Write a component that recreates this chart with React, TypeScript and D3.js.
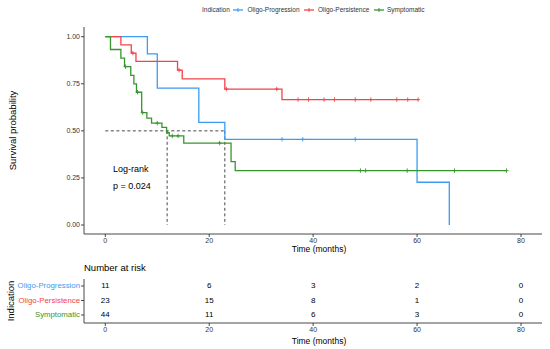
import * as d3 from "d3";

const groups = ["Oligo-Progression", "Oligo-Persistence", "Symptomatic"];
const colors = ["#3a9cf2", "#f2444a", "#35962e"];

// step curves (time in months, survival after the step)
const progTimes = [0, 8.1, 10.0, 18.0, 23.0, 60.0, 66.2];
const progSurv = [1, 0.909, 0.727, 0.545, 0.455, 0.227, 0];
const progEnd = 66.2;
const progCensor = [34.0, 38.0, 48.1];

const persTimes = [0, 3.0, 5.0, 5.9, 13.9, 14.8, 23.0, 34.0];
const persSurv = [1, 0.957, 0.913, 0.869, 0.822, 0.776, 0.722, 0.666];
const persEnd = 60.2;
const persCensor = [5.3, 14.2, 23.3, 33.0, 37.1, 39.1, 42.1, 44.1, 48.1, 51.1, 56.1, 58.2, 60.2];

const sympTimes = [0, 1.0, 3.0, 3.7, 4.9, 5.5, 6.0, 7.0, 8.0, 8.9, 10.9, 11.8, 12.3, 15.1, 24.2, 25.0];
const sympSurv = [1, 0.932, 0.886, 0.841, 0.795, 0.75, 0.705, 0.597, 0.568, 0.541, 0.518, 0.49, 0.473, 0.435, 0.337, 0.289];
const sympEnd = 77.2;
const sympCensor = [3.9, 6.2, 7.2, 10.0, 12.9, 14.0, 22.0, 49.1, 50.1, 58.1, 67.2, 77.2];

const medians = [11.9, 23.0];

const riskTimes = [0, 20, 40, 60, 80];
const riskProg = [11, 6, 3, 2, 0];
const riskPers = [23, 15, 8, 1, 0];
const riskSymp = [44, 11, 6, 3, 0];

const yTicks = [0, 0.25, 0.5, 0.75, 1];
const xTicks = [0, 20, 40, 60, 80];

const curves = [
  { times: progTimes, surv: progSurv, end: progEnd, censor: progCensor },
  { times: persTimes, surv: persSurv, end: persEnd, censor: persCensor },
  { times: sympTimes, surv: sympSurv, end: sympEnd, censor: sympCensor },
];
const risks = [riskProg, riskPers, riskSymp];

const font = "'Liberation Sans', Arial, sans-serif";
const ink = "#333";

export default function App() {
  const x = d3.scaleLinear().domain([0, 80]).range([105.3, 521]);
  const y = d3.scaleLinear().domain([0, 1]).range([225, 36.7]);
  const axisLeft = 84;
  const axisBottom = 234;
  const axisRight = 542;
  const titleX = 319;

  const line = d3
    .line<[number, number]>()
    .x((d) => x(d[0]))
    .y((d) => y(d[1]))
    .curve(d3.curveStepAfter);

  const survAt = (c: typeof curves[0], t: number) => {
    let s = c.surv[0];
    c.times.forEach((tt, i) => {
      if (tt <= t) s = c.surv[i];
    });
    return s;
  };

  const rowY = d3.scalePoint<string>().domain(groups).range([286, 315]);
  const riskAxisBottom = 323;

  const legendX = [233, 304, 374];
  const legendTextX = [247.5, 318, 387];

  return (
    <div style={{ position: "absolute", left: 0, top: 0 }}>
      <svg width={550} height={349} style={{ display: "block", fontFamily: font }}>
        <rect width={550} height={349} fill="#fff" />

        {/* legend */}
        <text x={202} y={10} fontSize={6.5} fill={ink} dominantBaseline="middle">
          Indication
        </text>
        {groups.map((g, i) => (
          <g key={g}>
            <line x1={legendX[i]} x2={legendX[i] + 10} y1={10} y2={10} stroke={colors[i]} strokeWidth={1.3} />
            <line x1={legendX[i] + 5} x2={legendX[i] + 5} y1={8} y2={12} stroke={colors[i]} strokeWidth={1} />
            <text x={legendTextX[i]} y={10} fontSize={6.5} fill={ink} dominantBaseline="middle">
              {g}
            </text>
          </g>
        ))}

        {/* main axes */}
        <line x1={axisLeft} x2={axisLeft} y1={27} y2={axisBottom} stroke={ink} strokeWidth={0.9} />
        <line x1={axisLeft} x2={axisRight} y1={axisBottom} y2={axisBottom} stroke={ink} strokeWidth={0.9} />
        {yTicks.map((t) => (
          <g key={t}>
            <line x1={axisLeft - 3} x2={axisLeft} y1={y(t)} y2={y(t)} stroke={ink} strokeWidth={0.9} />
            <text x={axisLeft - 4} y={y(t)} fontSize={7} fill={ink} textAnchor="end" dominantBaseline="middle">
              {d3.format(".2f")(t)}
            </text>
          </g>
        ))}
        {xTicks.map((t) => (
          <g key={t}>
            <line x1={x(t)} x2={x(t)} y1={axisBottom} y2={axisBottom + 3} stroke={ink} strokeWidth={0.9} />
            <text x={x(t)} y={axisBottom + 7.5} fontSize={7} fill={ink} textAnchor="middle" dominantBaseline="middle">
              {t}
            </text>
          </g>
        ))}
        <text x={titleX} y={250} fontSize={8.5} fill="#000" textAnchor="middle" dominantBaseline="middle">
          Time (months)
        </text>
        <text
          transform={`translate(13,${(27 + axisBottom) / 2}) rotate(-90)`}
          fontSize={9.5}
          fill="#000"
          textAnchor="middle"
          dominantBaseline="middle"
        >
          Survival probability
        </text>

        {/* median lines */}
        <line
          x1={x(0)}
          x2={x(d3.max(medians)!)}
          y1={y(0.5)}
          y2={y(0.5)}
          stroke={ink}
          strokeWidth={0.9}
          strokeDasharray="3,2.5"
        />
        {medians.map((m) => (
          <line key={m} x1={x(m)} x2={x(m)} y1={y(0.5)} y2={y(0)} stroke={ink} strokeWidth={0.9} strokeDasharray="3,2.5" />
        ))}

        {/* curves */}
        {curves.map((c, i) => {
          const pts: [number, number][] = c.times.map((t, j) => [t, c.surv[j]]);
          pts.push([c.end, c.surv[c.surv.length - 1]]);
          return (
            <g key={groups[i]}>
              <path d={line(pts) ?? ""} fill="none" stroke={colors[i]} strokeWidth={1.3} />
              {c.censor.map((t) => {
                const cx = x(t);
                const cy = y(survAt(c, t));
                return (
                  <g key={t} stroke={colors[i]} strokeWidth={0.9}>
                    <line x1={cx - 2} x2={cx + 2} y1={cy} y2={cy} />
                    <line x1={cx} x2={cx} y1={cy - 2.2} y2={cy + 2.2} />
                  </g>
                );
              })}
            </g>
          );
        })}

        <text x={113} y={169.5} fontSize={9} fill="#000" dominantBaseline="middle">
          Log-rank
        </text>
        <text x={113} y={187} fontSize={9} fill="#000" dominantBaseline="middle">
          p = 0.024
        </text>

        {/* risk table */}
        <text x={84} y={268.5} fontSize={9.5} fill="#000" dominantBaseline="middle">
          Number at risk
        </text>
        <line x1={axisLeft} x2={axisLeft} y1={279} y2={riskAxisBottom} stroke={ink} strokeWidth={0.9} />
        <line x1={axisLeft} x2={axisRight} y1={riskAxisBottom} y2={riskAxisBottom} stroke={ink} strokeWidth={0.9} />
        {groups.map((g, i) => (
          <g key={g}>
            <line x1={axisLeft - 3} x2={axisLeft} y1={rowY(g)!} y2={rowY(g)!} stroke={ink} strokeWidth={0.9} />
            <text
              x={axisLeft - 4}
              y={rowY(g)!}
              fontSize={7.8}
              fill={colors[i]}
              textAnchor="end"
              dominantBaseline="middle"
            >
              {g}
            </text>
            {risks[i].map((v, j) => (
              <text
                key={j}
                x={x(riskTimes[j])}
                y={rowY(g)!}
                fontSize={8}
                fill="#000"
                textAnchor="middle"
                dominantBaseline="middle"
              >
                {v}
              </text>
            ))}
          </g>
        ))}
        {xTicks.map((t) => (
          <g key={t}>
            <line x1={x(t)} x2={x(t)} y1={riskAxisBottom} y2={riskAxisBottom + 3} stroke={ink} strokeWidth={0.9} />
            <text x={x(t)} y={riskAxisBottom + 7.5} fontSize={7} fill={ink} textAnchor="middle" dominantBaseline="middle">
              {t}
            </text>
          </g>
        ))}
        <text x={titleX} y={341.5} fontSize={8.5} fill="#000" textAnchor="middle" dominantBaseline="middle">
          Time (months)
        </text>
        <text
          transform={`translate(11,${(279 + riskAxisBottom) / 2}) rotate(-90)`}
          fontSize={9.5}
          fill="#000"
          textAnchor="middle"
          dominantBaseline="middle"
        >
          Indication
        </text>
      </svg>
    </div>
  );
}
